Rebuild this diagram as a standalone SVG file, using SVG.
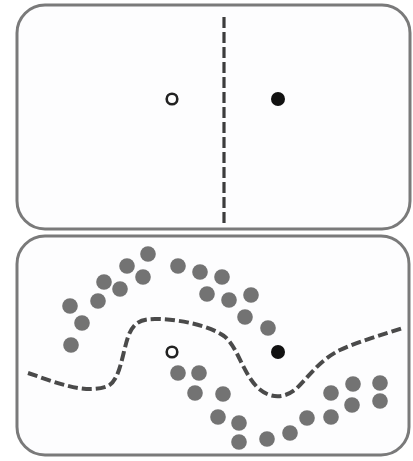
<svg xmlns="http://www.w3.org/2000/svg" width="413" height="461" viewBox="0 0 413 461">
<style>
.panel{fill:#fdfdfe;stroke:#7a7a7a;stroke-width:3}
.dot{fill:#737373}
.open{fill:#fff;stroke:#222;stroke-width:2.6}
.solid{fill:#111}
.vdash{fill:none;stroke:#3c3c3c;stroke-width:3.2;stroke-dasharray:11 4}
.cdash{fill:none;stroke:#4a4a4a;stroke-width:4;stroke-dasharray:10 4}
</style>
<rect width="413" height="461" fill="#ffffff"/>
<g id="panel-top">
<rect class="panel" x="17" y="5" width="393" height="224" rx="28"/>
<circle class="open" cx="172" cy="99" r="5.3"/>
<circle class="solid" cx="278" cy="99" r="7"/>
</g>
<g id="panel-bottom">
<rect class="panel" x="17" y="236" width="392" height="219" rx="28"/>
<g id="dots">
<circle class="dot" cx="148" cy="254" r="7.8"/>
<circle class="dot" cx="127" cy="266" r="7.8"/>
<circle class="dot" cx="143" cy="277" r="7.8"/>
<circle class="dot" cx="104" cy="282" r="7.8"/>
<circle class="dot" cx="120" cy="289" r="7.8"/>
<circle class="dot" cx="98" cy="301" r="7.8"/>
<circle class="dot" cx="70" cy="306" r="7.8"/>
<circle class="dot" cx="82" cy="323" r="7.8"/>
<circle class="dot" cx="71" cy="345" r="7.8"/>
<circle class="dot" cx="178" cy="266" r="7.8"/>
<circle class="dot" cx="200" cy="272" r="7.8"/>
<circle class="dot" cx="222" cy="277" r="7.8"/>
<circle class="dot" cx="207" cy="294" r="7.8"/>
<circle class="dot" cx="229" cy="300" r="7.8"/>
<circle class="dot" cx="251" cy="295" r="7.8"/>
<circle class="dot" cx="245" cy="317" r="7.8"/>
<circle class="dot" cx="268" cy="328" r="7.8"/>
<circle class="dot" cx="178" cy="373" r="7.8"/>
<circle class="dot" cx="199" cy="373" r="7.8"/>
<circle class="dot" cx="195" cy="393" r="7.8"/>
<circle class="dot" cx="223" cy="394" r="7.8"/>
<circle class="dot" cx="218" cy="417" r="7.8"/>
<circle class="dot" cx="239" cy="423" r="7.8"/>
<circle class="dot" cx="239" cy="442" r="7.8"/>
<circle class="dot" cx="267" cy="439" r="7.8"/>
<circle class="dot" cx="290" cy="433" r="7.8"/>
<circle class="dot" cx="307" cy="418" r="7.8"/>
<circle class="dot" cx="331" cy="417" r="7.8"/>
<circle class="dot" cx="331" cy="393" r="7.8"/>
<circle class="dot" cx="352" cy="405" r="7.8"/>
<circle class="dot" cx="353" cy="384" r="7.8"/>
<circle class="dot" cx="380" cy="383" r="7.8"/>
<circle class="dot" cx="380" cy="401" r="7.8"/>
</g>
<circle class="open" cx="172" cy="352" r="5.3"/>
<circle class="solid" cx="278" cy="352" r="7"/>
</g>
<g id="connectors">
<line class="vdash" x1="224" y1="17" x2="224" y2="223"/>
<path class="cdash" d="M28,373 C55,382 85,395 108,386 C120,380 122,355 128,337 C133,323 140,319 155,319 C180,319 210,326 224,336 C238,347 242,372 258,388 C270,399 285,399 297,388 C310,375 320,360 340,350 C360,341 385,334 403,328"/>
</g>
</svg>
